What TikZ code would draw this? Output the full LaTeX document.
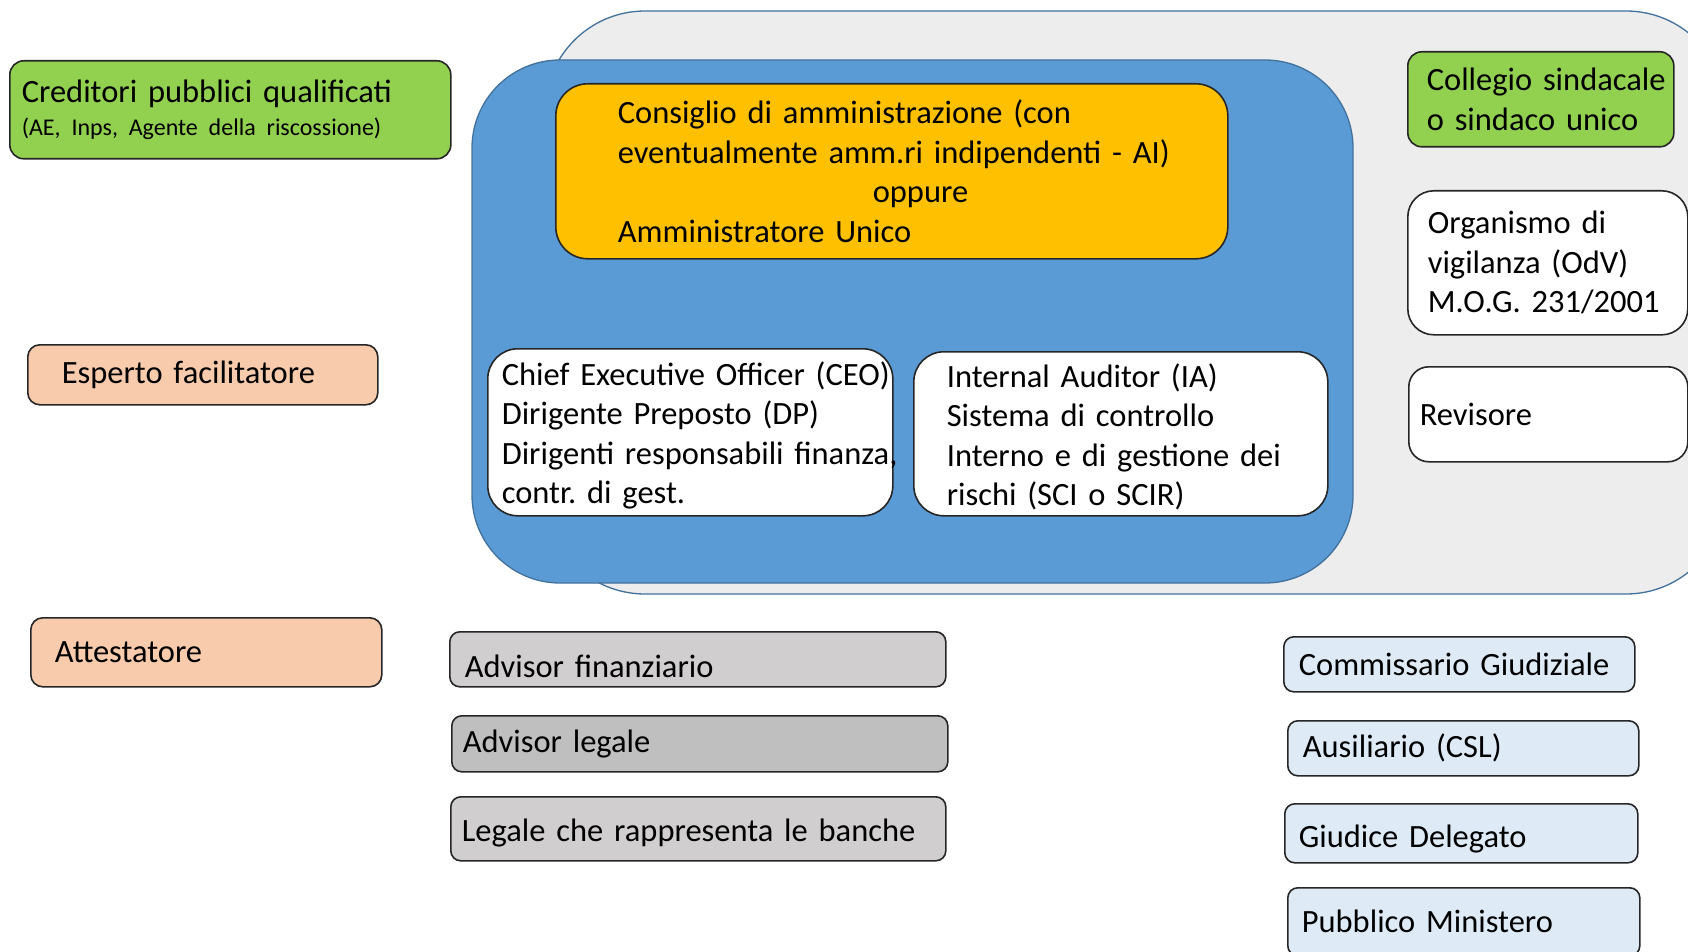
\documentclass[tikz,border=0pt]{standalone}
\usepackage{fontspec}
\setmainfont{Carlito}
\definecolor{cgreen}{HTML}{92D050}
\definecolor{corange}{HTML}{FFC000}
\definecolor{cblue}{HTML}{5B9BD5}
\definecolor{cblueline}{HTML}{41719C}
\definecolor{cgrayback}{HTML}{EDEDED}
\definecolor{csalmon}{HTML}{F8CBAD}
\definecolor{cgrayone}{HTML}{D0CECE}
\definecolor{cgraytwo}{HTML}{BFBFBF}
\definecolor{clightblue}{HTML}{DEEBF7}
\begin{document}
\begin{tikzpicture}[x=1pt, y=-1pt,
	box/.style={draw=black!85, line width=1.6pt, rounded corners=14pt, anchor=north west,
		align=left, inner ysep=0pt, font=\fontsize{32.5}{39.4}\selectfont\frenchspacing},
	area/.style={draw=cblueline, line width=1.3pt}]
	\useasboundingbox (0,0) rectangle (1688,952);

	% zone of the company
	\begin{scope}
		\clip (0,0) rectangle (1688,952);
		\draw[area, fill=cgrayback, rounded corners=100pt] (545,11) rectangle (1726,594);
	\end{scope}
	\draw[area, fill=cblue, rounded corners=88pt] (472,60) rectangle (1353,583);

	\node[box, fill=corange, rounded corners=32pt, text width=548pt, inner xsep=62pt, minimum height=175pt] (cda) at (555,83)
		{\mbox{Consiglio di amministrazione (con}\\ \mbox{eventualmente amm.ri indipendenti - AI)}\\ \hspace*{255pt}oppure\\ Amministratore Unico};
	\node[box, fill=white, rounded corners=30pt, text width=377pt, inner xsep=14pt, minimum height=167pt] (ceo) at (487,348)
		{\rule{0pt}{30pt}\mbox{Chief Executive Officer (CEO)}\\ Dirigente Preposto (DP)\\ \mbox{Dirigenti responsabili finanza,}\\ contr. di gest.};
	\node[box, fill=white, rounded corners=30pt, text width=348pt, inner xsep=33pt, minimum height=164pt] (ia) at (913,351)
		{\rule{0pt}{30pt}Internal Auditor (IA)\\ Sistema di controllo\\ \mbox{Interno e di gestione dei}\\ rischi (SCI o SCIR)};

	% left column
	\node[box, fill=cgreen, text width=417pt, inner xsep=12pt, minimum height=98pt] (cred) at (9,60)
		{Creditori pubblici qualificati\\[-6pt] {\fontsize{24}{28}\selectfont (AE, Inps, Agente della riscossione)}};
	\node[box, fill=csalmon, rounded corners=12pt, text width=282pt, inner xsep=34pt, minimum height=60pt] (esperto) at (27,344)
		{Esperto facilitatore};
	\node[box, fill=csalmon, rounded corners=12pt, text width=303pt, inner xsep=24pt, minimum height=69pt] (attest) at (30,617)
		{Attestatore};

	% right column
	\node[box, fill=cgreen, text width=228pt, inner xsep=19pt, minimum height=95pt] (collegio) at (1407,51)
		{\mbox{Collegio sindacale}\\ \mbox{o sindaco unico}};
	\node[box, fill=white, rounded corners=26pt, text width=240pt, inner xsep=20pt, minimum height=144pt] (odv) at (1407,190)
		{Organismo di\\ vigilanza (OdV)\\ \mbox{M.O.G. 231/2001}};
	\node[box, fill=white, rounded corners=20pt, text width=257pt, inner xsep=11pt, minimum height=95pt] (revisore) at (1408,366)
		{Revisore};

	% advisors
	\node[box, fill=cgrayone, rounded corners=10pt, text width=466pt, inner xsep=15pt, minimum height=55pt,
		text height=42pt, text depth=5pt] (advfin) at (449,631)
		{Advisor finanziario};
	\node[box, fill=cgraytwo, rounded corners=10pt, text width=474pt, inner xsep=11pt, minimum height=56pt] (advleg) at (451,715)
		{Advisor legale};
	\node[box, fill=cgrayone, rounded corners=10pt, text width=473pt, inner xsep=11pt, minimum height=64pt,
		text height=32pt, text depth=6pt] (legbanche) at (450,796)
		{Legale che rappresenta le banche};

	% procedure
	\node[box, fill=clightblue, rounded corners=10pt, text width=321pt, inner xsep=15pt, minimum height=55pt] (commiss) at (1283,636)
		{\mbox{Commissario Giudiziale}};
	\node[box, fill=clightblue, rounded corners=10pt, text width=321pt, inner xsep=15pt, minimum height=55pt] (ausil) at (1287,720)
		{Ausiliario (CSL)};
	\node[box, fill=clightblue, rounded corners=10pt, text width=325pt, inner xsep=14pt, minimum height=59pt,
		text height=36pt, text depth=7pt] (giudice) at (1284,803)
		{Giudice Delegato};
	\node[box, fill=clightblue, rounded corners=10pt, text width=324pt, inner xsep=14pt, minimum height=68pt] (pm) at (1287,887)
		{Pubblico Ministero};
\end{tikzpicture}
\end{document}
